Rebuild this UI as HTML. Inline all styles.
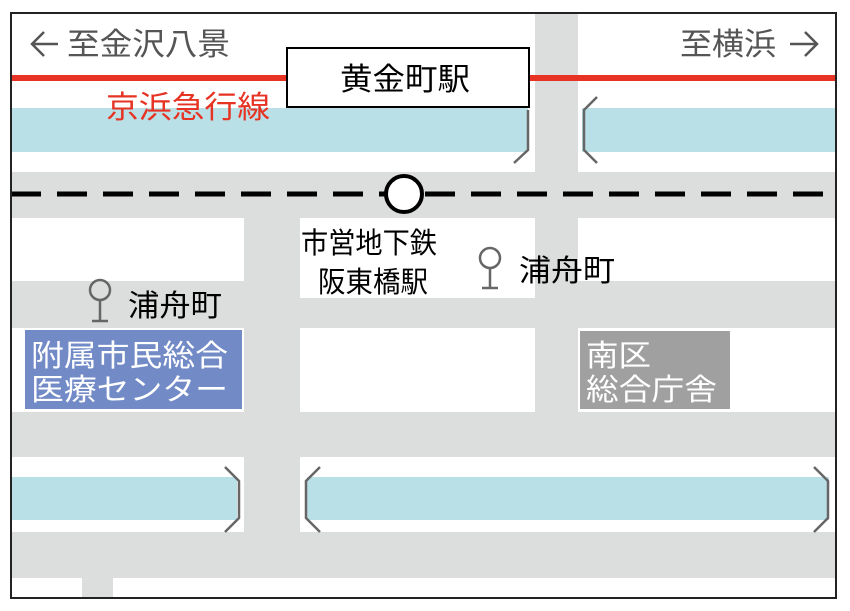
<!DOCTYPE html>
<html><head><meta charset="utf-8"><style>
body{margin:0;width:850px;height:611px;background:#fff;overflow:hidden}
svg{display:block}
text{font-family:"Liberation Sans","Noto Sans CJK JP",sans-serif}
</style></head><body>
<svg width="850" height="611" viewBox="0 0 850 611">
<rect x="11" y="13" width="825" height="585" fill="#dcdddd"/>
<g fill="#fff">
<rect x="11" y="13" width="524" height="159"/>
<rect x="578" y="13" width="258" height="159"/>
<rect x="11" y="218" width="233" height="63"/>
<rect x="300" y="218" width="235" height="80"/>
<rect x="578" y="218" width="258" height="63"/>
<rect x="11" y="328" width="233" height="84"/>
<rect x="300" y="328" width="235" height="84"/>
<rect x="578" y="328" width="258" height="84"/>
<rect x="11" y="457" width="233" height="75"/>
<rect x="300" y="457" width="536" height="75"/>
<rect x="11" y="578" width="71" height="20"/>
<rect x="113" y="578" width="723" height="20"/>
</g>
<g fill="#bae0e7">
<rect x="11" y="108" width="517" height="44"/>
<rect x="582" y="108" width="254" height="44"/>
<rect x="11" y="477" width="226" height="43"/>
<rect x="307" y="477" width="522" height="43"/>
</g>
<g fill="none" stroke="#666" stroke-width="2.5">
<polyline points="514,163 528,150 528,110"/>
<polyline points="597,97 584,110 584,150 597,163"/>
<polyline points="225,467 239,481 239,518 225,532"/>
<polyline points="320,467 306,481 306,518 320,532"/>
<polyline points="814,467 828,481 828,518 814,532"/>
</g>
<rect x="11" y="75" width="825" height="6" fill="#e63323"/>
<rect x="287" y="48" width="242" height="59" fill="#fff" stroke="#000" stroke-width="2"/>
<text x="340" y="90" font-size="31" textLength="130" lengthAdjust="spacingAndGlyphs" fill="#000">黄金町駅</text>
<text x="106" y="118" font-size="31" textLength="164" lengthAdjust="spacingAndGlyphs" fill="#e63323">京浜急行線</text>
<g fill="none" stroke="#555" stroke-width="2.5">
<polyline points="44,32 32,44 44,56"/><line x1="32" y1="44" x2="58" y2="44"/>
<polyline points="805,32 817,44 805,56"/><line x1="790" y1="44" x2="817" y2="44"/>
</g>
<text x="67" y="55" font-size="31" textLength="163" lengthAdjust="spacingAndGlyphs" fill="#555">至金沢八景</text>
<text x="680" y="55" font-size="31" textLength="96" lengthAdjust="spacingAndGlyphs" fill="#555">至横浜</text>
<line x1="11" y1="194" x2="836" y2="194" stroke="#000" stroke-width="5" stroke-dasharray="30,16"/>
<circle cx="404" cy="194" r="18" fill="#fff" stroke="#000" stroke-width="4"/>
<text x="301" y="253" font-size="29" textLength="136" lengthAdjust="spacingAndGlyphs" fill="#000">市営地下鉄</text>
<text x="318" y="292" font-size="29" textLength="110" lengthAdjust="spacingAndGlyphs" fill="#000">阪東橋駅</text>
<g fill="none" stroke="#666" stroke-width="2.5">
<circle cx="490" cy="258" r="10"/><line x1="490" y1="268" x2="490" y2="288"/><line x1="482" y1="288" x2="498" y2="288"/>
<circle cx="100" cy="290" r="10"/><line x1="100" y1="300" x2="100" y2="321"/><line x1="92" y1="321" x2="108" y2="321"/>
</g>
<text x="519" y="281" font-size="30" textLength="96" lengthAdjust="spacingAndGlyphs" fill="#000">浦舟町</text>
<text x="128" y="316" font-size="30" textLength="94" lengthAdjust="spacingAndGlyphs" fill="#000">浦舟町</text>
<rect x="25" y="330" width="217" height="79" fill="#728bc7"/>
<text x="31" y="366" font-size="30" textLength="197" lengthAdjust="spacingAndGlyphs" fill="#fff">附属市民総合</text>
<text x="31" y="400" font-size="30" textLength="197" lengthAdjust="spacingAndGlyphs" fill="#fff">医療センター</text>
<rect x="580" y="331" width="150" height="78" fill="#a0a0a0"/>
<text x="586" y="366" font-size="30" textLength="65" lengthAdjust="spacingAndGlyphs" fill="#fff">南区</text>
<text x="586" y="400" font-size="30" textLength="131" lengthAdjust="spacingAndGlyphs" fill="#fff">総合庁舎</text>
<rect x="11" y="13" width="825" height="585" fill="none" stroke="#222" stroke-width="2"/>
</svg>
</body></html>
